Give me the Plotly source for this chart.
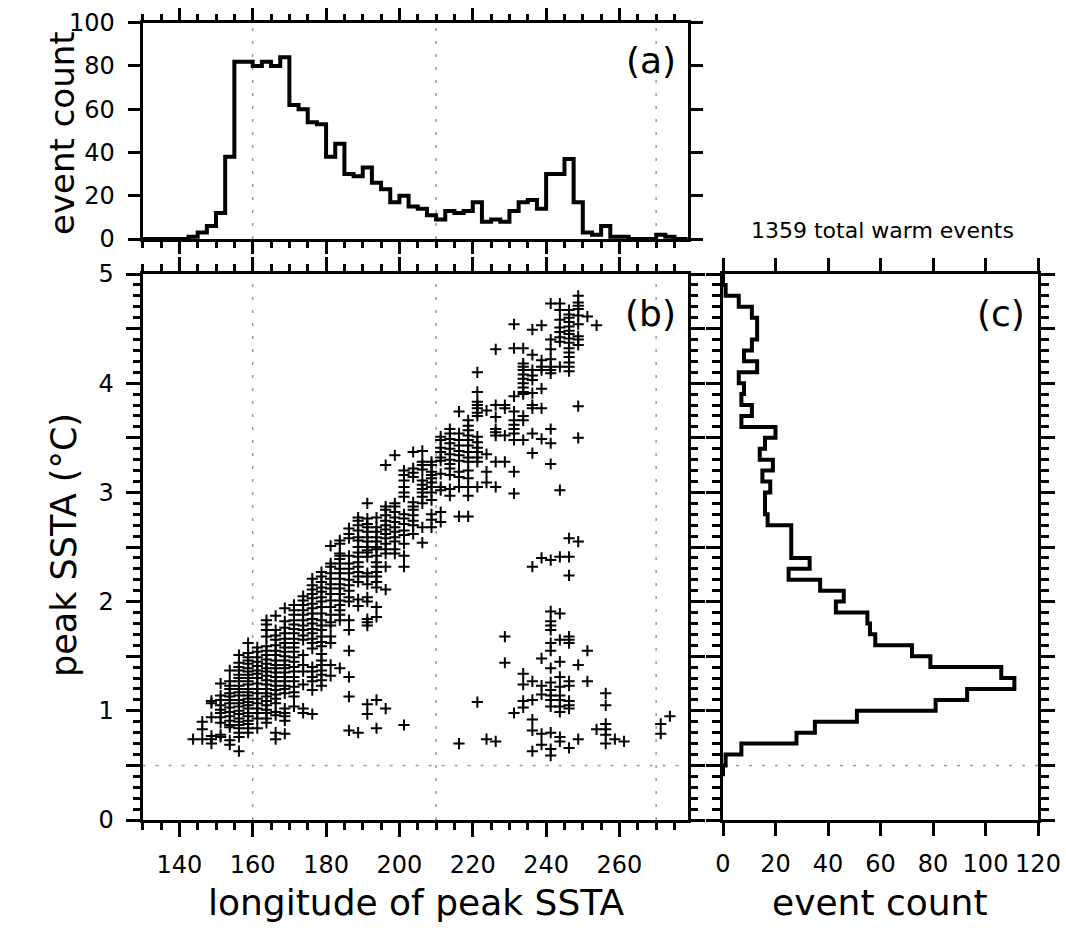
import plotly.graph_objects as go

# ---------------- data ----------------
# (a) histogram of longitude of peak SSTA, 2.5-degree bins (bin start longitudes)
lon_bin_starts = [130, 132.5, 135, 137.5, 140, 142.5, 145, 147.5, 150, 152.5,
                  155, 157.5, 160, 162.5, 165, 167.5, 170, 172.5, 175, 177.5,
                  180, 182.5, 185, 187.5, 190, 192.5, 195, 197.5, 200, 202.5,
                  205, 207.5, 210, 212.5, 215, 217.5, 220, 222.5, 225, 227.5,
                  230, 232.5, 235, 237.5, 240, 242.5, 245, 247.5, 250, 252.5,
                  255, 257.5, 260, 262.5, 265, 267.5, 270, 272.5, 275, 277.5]
lon_counts = [0, 0, 0, 0, 0, 1, 3, 6, 12, 38,
              82, 82, 80, 82, 80, 84, 62, 60, 54, 53,
              38, 44, 30, 29, 33, 26, 23, 17, 20, 15,
              14, 11, 9, 13, 12, 13, 17, 8, 9, 8,
              13, 17, 18, 14, 30, 30, 37, 17, 3, 2,
              6, 1, 1, 0, 0, 0, 2, 1, 0, 0]
lon_bin_width = 2.5

# (c) histogram of peak SSTA, 0.1 degC bins (bin start values)
ssta_bin_starts = [0.4, 0.5, 0.6, 0.7, 0.8, 0.9, 1.0, 1.1, 1.2, 1.3,
                   1.4, 1.5, 1.6, 1.7, 1.8, 1.9, 2.0, 2.1, 2.2, 2.3,
                   2.4, 2.5, 2.6, 2.7, 2.8, 2.9, 3.0, 3.1, 3.2, 3.3,
                   3.4, 3.5, 3.6, 3.7, 3.8, 3.9, 4.0, 4.1, 4.2, 4.3,
                   4.4, 4.5, 4.6, 4.7, 4.8, 4.9]
ssta_counts = [0, 1, 7, 28, 35, 51, 81, 93, 111, 106,
               79, 72, 58, 56, 55, 43, 46, 37, 25, 33,
               26, 26, 26, 17, 16, 16, 18, 15, 19, 14,
               16, 20, 7, 11, 7, 8, 6, 13, 8, 11,
               13, 13, 11, 6, 1, 0]
ssta_bin_width = 0.1

# (b) scatter: events grouped by longitude column, peak SSTA values in each column
scatter_lons = [143.75, 146.25, 148.75, 151.25, 153.75, 156.25, 158.75, 161.25,
                163.75, 166.25, 168.75, 171.25, 173.75, 176.25, 178.75, 181.25,
                183.75, 186.25, 188.75, 191.25, 193.75, 196.25, 198.75, 201.25,
                203.75, 206.25, 208.75, 211.25, 213.75, 216.25, 218.75, 221.25,
                223.75, 226.25, 228.75, 231.25, 233.75, 236.25, 238.75, 241.25,
                243.75, 246.25, 248.75, 251.25, 253.75, 256.25, 258.75, 261.25,
                271.25, 273.75]
scatter_peaks = [
    [0.74],
    [0.90, 0.83, 0.74],
    [1.09, 1.07, 0.94, 0.77, 0.74, 0.70],
    [1.25, 1.14, 1.10, 1.05, 1.01, 0.98, 0.94, 0.89, 0.78, 0.76],
    [1.37, 1.27, 1.23, 1.20, 1.16, 1.13, 1.10, 1.07, 1.03, 0.99, 0.95, 0.91, 0.87, 0.85, 0.73, 0.69],
    [1.51, 1.44, 1.40, 1.37, 1.33, 1.30, 1.27, 1.23, 1.20, 1.17, 1.14, 1.10, 1.07, 1.04, 1.00, 0.97,
     0.93, 0.90, 0.87, 0.84, 0.80, 0.76, 0.63],
    [1.62, 1.53, 1.49, 1.46, 1.43, 1.39, 1.36, 1.33, 1.30, 1.27, 1.24, 1.20, 1.17, 1.14, 1.11, 1.08,
     1.05, 1.02, 0.98, 0.95, 0.91, 0.88, 0.84, 0.80],
    [1.58, 1.54, 1.49, 1.45, 1.41, 1.37, 1.34, 1.30, 1.25, 1.20, 1.16, 1.11, 1.07, 1.02, 0.98, 0.93, 0.84],
    [1.83, 1.79, 1.74, 1.68, 1.59, 1.55, 1.51, 1.47, 1.43, 1.39, 1.36, 1.32, 1.28, 1.24, 1.20, 1.16,
     1.13, 1.09, 1.05, 1.01, 0.98, 0.93, 0.89],
    [1.87, 1.74, 1.69, 1.65, 1.60, 1.55, 1.51, 1.46, 1.42, 1.39, 1.35, 1.31, 1.27, 1.23, 1.19, 1.15,
     1.11, 1.07, 0.99, 0.96, 0.80, 0.74],
    [1.94, 1.82, 1.76, 1.71, 1.66, 1.62, 1.58, 1.54, 1.50, 1.46, 1.42, 1.39, 1.35, 1.31, 1.27, 1.23,
     1.20, 1.16, 1.02, 0.98, 0.95, 0.91, 0.79],
    [1.97, 1.92, 1.88, 1.83, 1.79, 1.75, 1.71, 1.66, 1.62, 1.58, 1.54, 1.49, 1.45, 1.40, 1.36, 1.31,
     1.27, 1.22, 1.17, 1.13, 1.04],
    [2.05, 2.01, 1.97, 1.92, 1.88, 1.83, 1.78, 1.74, 1.69, 1.65, 1.51, 1.42, 1.36, 1.24, 1.02, 0.98],
    [2.21, 2.15, 2.11, 2.07, 2.03, 1.98, 1.94, 1.89, 1.84, 1.80, 1.75, 1.71, 1.66, 1.62, 1.57, 1.40,
     1.36, 1.31, 1.27, 1.19, 0.97],
    [2.27, 2.23, 2.18, 2.13, 2.09, 2.04, 2.00, 1.95, 1.89, 1.83, 1.78, 1.74, 1.68, 1.63, 1.59, 1.52,
     1.46, 1.42, 1.37, 1.33, 1.28, 1.23],
    [2.51, 2.35, 2.32, 2.26, 2.21, 2.16, 2.12, 2.07, 2.01, 1.95, 1.88, 1.81, 1.78, 1.68, 1.62, 1.42, 1.32],
    [2.56, 2.53, 2.44, 2.42, 2.39, 2.35, 2.30, 2.26, 2.21, 2.16, 2.12, 2.07, 2.01, 1.97, 1.92, 1.88,
     1.83, 1.39],
    [2.67, 2.62, 2.58, 2.42, 2.35, 2.30, 2.26, 2.20, 2.15, 2.10, 2.04, 2.00, 1.83, 1.74, 1.55, 1.31,
     1.13, 0.82],
    [2.77, 2.74, 2.70, 2.65, 2.59, 2.56, 2.50, 2.45, 2.41, 2.36, 2.32, 2.27, 2.23, 2.18, 2.02, 1.96, 0.80],
    [2.90, 2.76, 2.71, 2.68, 2.64, 2.59, 2.55, 2.50, 2.47, 2.45, 2.41, 2.26, 2.23, 2.16, 2.04, 2.00,
     1.84, 1.81, 1.78, 1.06, 0.97],
    [2.77, 2.68, 2.64, 2.59, 2.55, 2.50, 2.48, 2.42, 2.36, 2.32, 2.27, 2.23, 2.18, 2.13, 1.95, 1.86,
     1.10, 0.84],
    [3.25, 2.87, 2.84, 2.79, 2.74, 2.70, 2.66, 2.62, 2.58, 2.53, 2.48, 2.44, 2.32, 2.11, 1.02],
    [3.34, 2.90, 2.87, 2.82, 2.77, 2.73, 2.68, 2.64, 2.59, 2.55, 2.48, 2.44],
    [3.20, 3.16, 3.11, 3.05, 3.00, 2.96, 2.80, 2.76, 2.71, 2.65, 2.61, 2.53, 2.42, 2.32, 0.87],
    [3.37, 3.22, 3.18, 3.14, 2.91, 2.87, 2.84, 2.79, 2.74, 2.70, 2.62],
    [3.38, 3.28, 3.25, 3.21, 3.11, 3.07, 3.03, 3.00, 2.96, 2.90, 2.68, 2.54],
    [3.28, 3.25, 3.19, 3.16, 3.13, 3.09, 3.05, 3.00, 2.93, 2.80, 2.75, 2.68],
    [3.51, 3.48, 3.41, 3.37, 3.32, 3.29, 3.17, 3.05, 3.02, 2.82, 2.73],
    [3.58, 3.54, 3.49, 3.45, 3.40, 3.35, 3.30, 3.26, 3.22, 3.16, 3.03, 2.97],
    [3.74, 3.54, 3.48, 3.43, 3.38, 3.34, 3.29, 3.19, 3.14, 3.05, 2.78, 0.70],
    [3.66, 3.61, 3.57, 3.52, 3.48, 3.43, 3.37, 3.32, 3.28, 3.20, 3.13, 3.05, 2.97, 2.78],
    [4.10, 3.92, 3.83, 3.80, 3.77, 3.73, 3.70, 3.51, 3.46, 3.41, 3.37, 3.32, 3.28, 3.05, 1.08],
    [3.75, 3.35, 3.19, 3.09, 0.74],
    [4.31, 3.80, 3.69, 3.58, 3.55, 3.52, 3.28, 3.05, 0.72],
    [3.80, 3.77, 3.52, 3.28, 1.68, 1.44],
    [4.54, 4.32, 3.88, 3.74, 3.66, 3.62, 3.58, 3.54, 3.48, 3.19, 2.99, 0.98],
    [4.32, 4.18, 4.15, 4.12, 4.08, 4.04, 4.00, 3.96, 3.92, 3.90, 3.70, 3.66, 3.48, 1.34, 1.24, 1.09, 1.03],
    [4.49, 4.26, 4.12, 4.07, 4.03, 3.91, 3.80, 3.77, 3.54, 3.36, 2.32, 1.27, 1.10, 0.92, 0.82, 0.63],
    [4.53, 4.21, 4.15, 4.12, 3.95, 3.77, 3.49, 2.40, 1.48, 1.23, 1.15, 0.79, 0.69],
    [4.73, 4.40, 4.31, 4.22, 4.15, 4.12, 4.09, 3.58, 3.45, 3.26, 2.38, 1.91, 1.82, 1.78, 1.74, 1.62,
     1.55, 1.39, 1.26, 1.19, 1.14, 1.10, 1.04, 0.80, 0.65, 0.59],
    [4.73, 4.67, 4.58, 4.51, 4.47, 4.42, 4.38, 4.15, 3.02, 2.41, 1.89, 1.65, 1.45, 1.31, 1.22, 1.14,
     1.10, 1.04, 0.99, 0.76, 0.72],
    [4.67, 4.63, 4.60, 4.56, 4.52, 4.48, 4.45, 4.41, 4.37, 4.32, 4.28, 4.24, 4.19, 4.15, 4.11, 2.58,
     2.41, 2.24, 1.68, 1.65, 1.62, 1.27, 1.23, 1.09, 1.05, 1.02, 0.66],
    [4.80, 4.74, 4.71, 4.68, 4.62, 4.54, 4.43, 4.40, 4.35, 3.79, 3.50, 2.55, 1.42, 0.74],
    [4.61, 1.55, 1.27],
    [4.53, 0.83],
    [1.16, 1.05, 0.88, 0.83, 0.78, 0.70],
    [0.74],
    [0.72],
    [0.88, 0.79],
    [0.95],
]

ref_longitudes = [160, 210, 270]
ssta_threshold = 0.5
total_events = 1359

lon_tick_labels = ["140", "160", "180", "200", "220", "240", "260"]
lon_tick_vals = [140, 160, 180, 200, 220, 240, 260]
ssta_tick_vals = [0, 0.5, 1, 1.5, 2, 2.5, 3, 3.5, 4, 4.5, 5]
ssta_tick_labels = ["0", "", "1", "", "2", "", "3", "", "4", "", "5"]
count_a_tick_vals = [0, 20, 40, 60, 80, 100]
count_c_tick_vals = [0, 20, 40, 60, 80, 100, 120]

# ---------------- figure ----------------
W, H = 1066, 928
FONT = "DejaVu Sans"

# (a) step histogram
ha_x = list(lon_bin_starts) + [lon_bin_starts[-1] + lon_bin_width]
ha_y = list(lon_counts) + [lon_counts[-1]]

# (b) scatter flatten
sc_x, sc_y = [], []
for lon, peaks in zip(scatter_lons, scatter_peaks):
    for p in peaks:
        sc_x.append(lon)
        sc_y.append(p)

# (c) step histogram (horizontal)
hc_x, hc_y = [], []
for start, c in zip(ssta_bin_starts, ssta_counts):
    hc_x += [c, c]
    hc_y += [start, start + ssta_bin_width]

fig = go.Figure()
fig.add_trace(go.Scatter(x=ha_x, y=ha_y, mode="lines", line=dict(color="black", width=4, shape="hv"),
                         xaxis="x", yaxis="y", showlegend=False, hoverinfo="skip"))
fig.add_trace(go.Scatter(x=sc_x, y=sc_y, mode="markers",
                         marker=dict(symbol="cross-thin", size=8, color="black",
                                     line=dict(color="black", width=2)),
                         xaxis="x2", yaxis="y2", showlegend=False))
fig.add_trace(go.Scatter(x=hc_x, y=hc_y, mode="lines", line=dict(color="black", width=4),
                         xaxis="x3", yaxis="y3", showlegend=False, hoverinfo="skip"))

xa_dom = [142.67 / W, 687.7 / W]
xc_dom = [723 / W, 1038 / W]
yb_dom = [(H - 820) / H, (H - 274) / H]
ya_dom = [(H - 239) / H, (H - 22.7) / H]

tickfont = dict(family=FONT, size=24, color="black")
common = dict(showline=True, linecolor="black", linewidth=3, mirror="ticks",
              ticks="outside", tickcolor="black", tickwidth=2.5,
              showgrid=False, zeroline=False, tickfont=tickfont, automargin=False)

lon_range = [130, 278.6]

fig.update_layout(
    width=W, height=H,
    margin=dict(l=0, r=0, t=0, b=0),
    paper_bgcolor="white", plot_bgcolor="white",
    font=dict(family=FONT, color="black"),
    xaxis=dict(domain=xa_dom, anchor="y", range=lon_range, tickmode="array",
               tickvals=lon_tick_vals, ticklen=12, showticklabels=False,
               minor=dict(tickmode="linear", tick0=0, dtick=5, ticklen=6, ticks="outside",
                          tickcolor="black", tickwidth=2.5), **common),
    yaxis=dict(domain=ya_dom, anchor="x", range=[0, 100], tickmode="array",
               tickvals=count_a_tick_vals, ticklen=12, ticklabelstandoff=8, **common),
    xaxis2=dict(domain=xa_dom, anchor="y2", range=lon_range, tickmode="array",
                tickvals=lon_tick_vals, ticktext=lon_tick_labels, ticklen=14,
                ticklabelstandoff=7,
                minor=dict(tickmode="linear", tick0=0, dtick=5, ticklen=7, ticks="outside",
                           tickcolor="black", tickwidth=2.5), **common),
    yaxis2=dict(domain=yb_dom, anchor="x2", range=[0, 5], tickmode="array",
                tickvals=ssta_tick_vals, ticktext=ssta_tick_labels, ticklen=14,
                ticklabelstandoff=7,
                minor=dict(tickmode="linear", tick0=0, dtick=0.1, ticklen=7, ticks="outside",
                           tickcolor="black", tickwidth=2.5), **common),
    xaxis3=dict(domain=xc_dom, anchor="y3", range=[0, 120], tickmode="array",
                tickvals=count_c_tick_vals, ticklen=13, ticklabelstandoff=7, **common),
    yaxis3=dict(domain=yb_dom, anchor="x3", range=[0, 5], tickmode="array",
                tickvals=ssta_tick_vals, ticklen=14, showticklabels=False,
                minor=dict(tickmode="linear", tick0=0, dtick=0.1, ticklen=8, ticks="outside",
                           tickcolor="black", tickwidth=2.5), **common),
)

dot = dict(color="#9a9a9a", width=1.5, dash="3px,10px")
shapes = []
for lon in ref_longitudes:
    shapes.append(dict(type="line", xref="x", yref="y domain", x0=lon, x1=lon, y0=0, y1=1,
                       line=dot, layer="below"))
    shapes.append(dict(type="line", xref="x2", yref="y2 domain", x0=lon, x1=lon, y0=0, y1=1,
                       line=dot, layer="below"))
shapes.append(dict(type="line", xref="x2 domain", yref="y2", x0=0, x1=1,
                   y0=ssta_threshold, y1=ssta_threshold, line=dot, layer="below"))
shapes.append(dict(type="line", xref="x3 domain", yref="y3", x0=0, x1=1,
                   y0=ssta_threshold, y1=ssta_threshold, line=dot, layer="below"))
fig.update_layout(shapes=shapes)


def px(x, y):
    return x / W, (H - y) / H


annots = []
for text, (x, y), size, angle in [
    ("(a)", (651, 60), 36, 0),
    ("(b)", (650, 313), 36, 0),
    ("(c)", (1001, 313), 36, 0),
    (f"{total_events} total warm events", (882, 231), 22, 0),
    ("longitude of peak SSTA", (416, 902), 36, 0),
    ("event count", (880, 902), 36, 0),
    ("peak SSTA (°C)", (64, 545), 35, -90),
    ("event count", (62, 133), 34, -90),
]:
    ax, ay = px(x, y)
    annots.append(dict(text=text, x=ax, y=ay, xref="paper", yref="paper",
                       xanchor="center", yanchor="middle", showarrow=False,
                       textangle=angle, font=dict(family=FONT, size=size, color="black")))
fig.update_layout(annotations=annots)

fig.write_html("out.html", config={"displayModeBar": False},
               post_script="document.body.style.margin='0px';")
